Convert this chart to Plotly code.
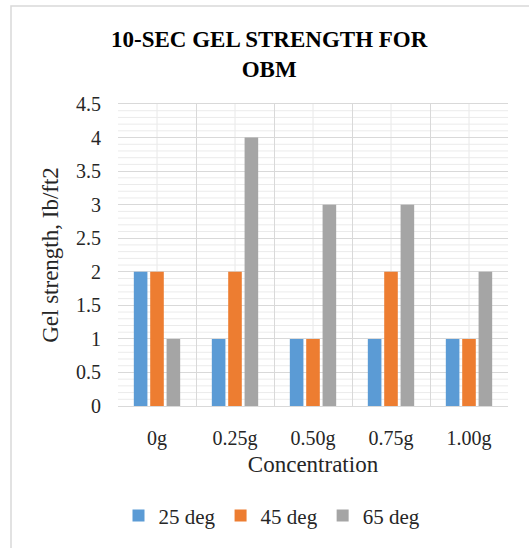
import plotly.graph_objects as go

concentrations = ["0g", "0.25g", "0.50g", "0.75g", "1.00g"]
gel_25 = [2, 1, 1, 1, 1]
gel_45 = [2, 2, 1, 2, 1]
gel_65 = [1, 4, 3, 3, 2]
series_names = ["25 deg", "45 deg", "65 deg"]
series_colors = ["#5B9BD5", "#ED7D31", "#A5A5A5"]
chart_title = "10-SEC GEL STRENGTH FOR<br>OBM"

y_max = 4.5
y_major = 0.5
y_minor = 0.1

W, H = 529, 548
L, R, T, B = 118, 21, 104, 139
pw, ph = W - L - R, H - T - B

font_family = "Liberation Serif"

fig = go.Figure()
for name, vals, col in zip(series_names, [gel_25, gel_45, gel_65], series_colors):
    fig.add_trace(go.Bar(x=concentrations, y=vals, name=name, marker_color=col,
                         marker_line_width=0))

shapes = []
# light gridlines through the category centres
for c in concentrations:
    shapes.append(dict(type="line", xref="x", yref="paper", x0=c, x1=c, y0=0, y1=1,
                       line=dict(color="#E8E8E8", width=1), layer="between"))
# minor horizontal gridlines
n_minor = int(round(y_max / y_minor))
per_major = int(round(y_major / y_minor))
for i in range(1, n_minor):
    if i % per_major == 0:
        continue
    yv = i * y_minor
    shapes.append(dict(type="line", xref="paper", yref="y", x0=0, x1=1, y0=yv, y1=yv,
                       line=dict(color="#EBEBEB", width=1), layer="between"))


def px_x(p):
    return (p - L) / pw


def px_y(p):
    return (H - B - p) / ph


# outer chart border
shapes.append(dict(type="rect", xref="paper", yref="paper",
                   x0=px_x(11), x1=px_x(540), y0=px_y(560), y1=px_y(5),
                   line=dict(color="#D9D9D9", width=1.5), fillcolor="rgba(0,0,0,0)"))

fig.update_layout(
    width=W, height=H,
    margin=dict(l=L, r=R, t=T, b=B),
    paper_bgcolor="white", plot_bgcolor="white",
    font=dict(family=font_family, color="#262626", size=18),
    barmode="group", bargap=0.37, bargroupgap=0.17,
    legend=dict(orientation="h", x=px_x(272), xanchor="center",
                y=px_y(520), yanchor="middle",
                font=dict(size=21, color="#262626"),
                itemwidth=30, traceorder="normal"),
    shapes=shapes,
    annotations=[dict(text="<b>" + chart_title + "</b>", xref="paper", yref="paper",
                      x=px_x(269), y=px_y(54), xanchor="center", yanchor="middle",
                      showarrow=False,
                      font=dict(family=font_family, size=23, color="#000000"))],
)

fig.update_xaxes(
    type="category", tickson="boundaries", showgrid=True,
    gridcolor="#D9D9D9", gridwidth=1, ticks="", ticklabelstandoff=14,
    showline=True, linecolor="#D9D9D9", mirror=True,
    tickfont=dict(size=20),
    title=dict(text="Concentration", font=dict(size=23), standoff=6),
)
fig.update_yaxes(
    range=[0, y_max], dtick=y_major, showgrid=True, gridcolor="#D9D9D9", gridwidth=1,
    zeroline=False, ticks="", ticklabelstandoff=16,
    tickfont=dict(size=20),
    title=dict(text="Gel strength, Ib/ft2", font=dict(size=23), standoff=10),
)

fig.write_html("out.html")
